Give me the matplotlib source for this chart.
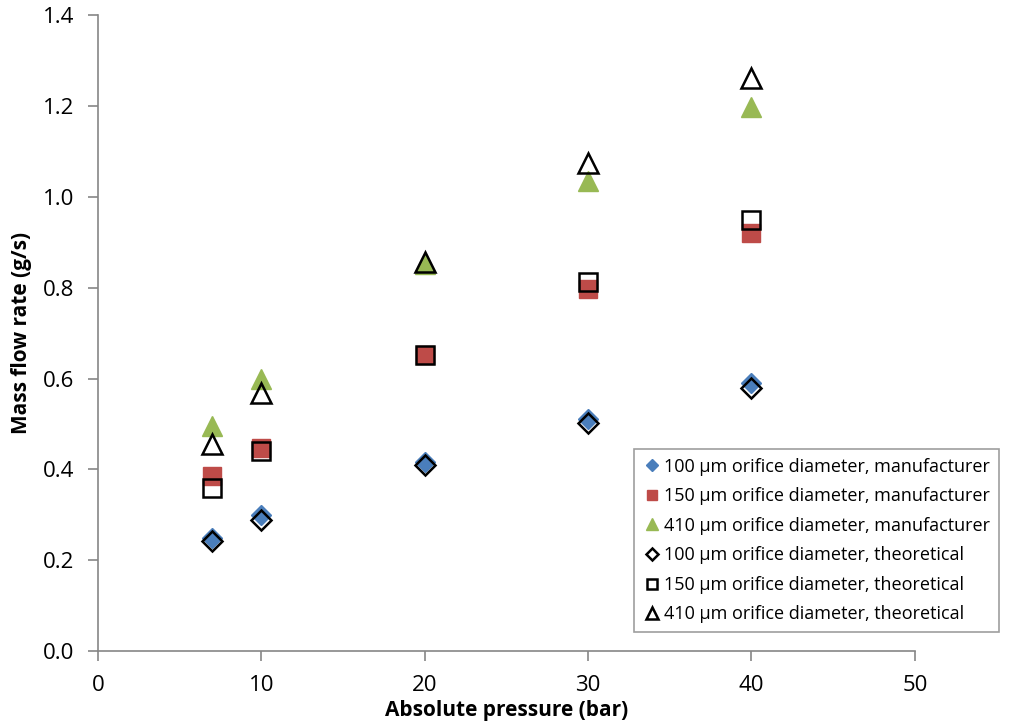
import matplotlib.pyplot as plt

plt.rcParams['font.family'] = ['Open Sans', 'DejaVu Sans']

# pressures (bar)
pressure = [7, 10, 20, 30, 40]

# mass flow rate (g/s)
d100_manuf = [0.248, 0.300, 0.416, 0.510, 0.590]
d150_manuf = [0.385, 0.447, 0.652, 0.797, 0.920]
d410_manuf = [0.496, 0.600, 0.852, 1.035, 1.198]
d100_theo = [0.242, 0.288, 0.410, 0.502, 0.579]
d150_theo = [0.360, 0.440, 0.652, 0.812, 0.949]
d410_theo = [0.456, 0.568, 0.856, 1.074, 1.262]

x_ticks = [0, 10, 20, 30, 40, 50]
y_ticks = [0.0, 0.2, 0.4, 0.6, 0.8, 1.0, 1.2, 1.4]

fig = plt.figure(figsize=(10.19, 7.24), dpi=100)
ax = fig.add_axes([0.0962, 0.1008, 0.8016, 0.878])

ax.plot(pressure, d100_manuf, ls='none', marker='D', ms=10, color='#4a7ebb',
        mec='#4a7ebb', label='100 µm orifice diameter, manufacturer')
ax.plot(pressure, d150_manuf, ls='none', marker='s', ms=13, color='#be4b48',
        mec='#be4b48', label='150 µm orifice diameter, manufacturer')
ax.plot(pressure, d410_manuf, ls='none', marker='^', ms=14, color='#98b954',
        mec='#98b954', label='410 µm orifice diameter, manufacturer')
ax.plot(pressure, d100_theo, ls='none', marker='D', ms=10, mfc='none',
        mec='black', mew=1.8, label='100 µm orifice diameter, theoretical')
ax.plot(pressure, d150_theo, ls='none', marker='s', ms=13, mfc='none',
        mec='black', mew=1.8, label='150 µm orifice diameter, theoretical')
ax.plot(pressure, d410_theo, ls='none', marker='^', ms=14, mfc='none',
        mec='black', mew=1.8, label='410 µm orifice diameter, theoretical')

ax.set_xlim(0, 50)
ax.set_ylim(0, 1.4)
ax.set_xticks(x_ticks)
ax.set_yticks(y_ticks)
ax.set_yticklabels([f'{v:.1f}' for v in y_ticks])

for s in ['top', 'right']:
    ax.spines[s].set_visible(False)
for s in ['left', 'bottom']:
    ax.spines[s].set_color('#868686')
    ax.spines[s].set_linewidth(1.2)
ax.tick_params(direction='out', length=7, width=1.2, color='#868686',
               labelsize=16, pad=10)

ax.set_xlabel('Absolute pressure (bar)', fontsize=15, fontweight='bold', labelpad=3)
ax.set_ylabel('Mass flow rate (g/s)', fontsize=15, fontweight='bold', labelpad=8)

leg = ax.legend(loc='lower right', bbox_to_anchor=(1.114, 0.015), fontsize=13,
                frameon=True, fancybox=False, handletextpad=0.15,
                handlelength=1.0, markerscale=0.6, borderpad=0.5,
                labelspacing=0.64)
leg.get_frame().set_edgecolor('#868686')
leg.get_frame().set_linewidth(1.2)

fig.savefig('out.png', dpi=100)
